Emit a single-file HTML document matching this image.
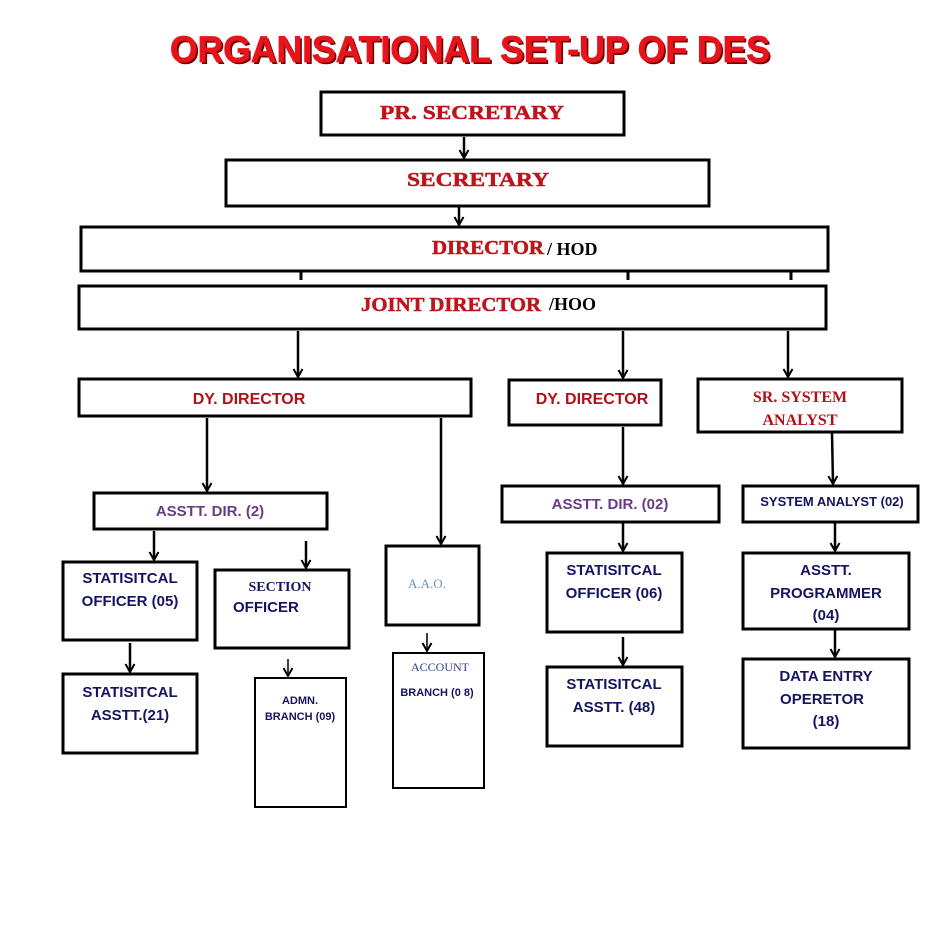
<!DOCTYPE html>
<html><head><meta charset="utf-8"><style>
html,body{margin:0;padding:0;background:#fff;width:929px;height:926px;overflow:hidden}
svg{display:block}
.n{font-family:"Liberation Sans Narrow","Liberation Sans",sans-serif;font-weight:bold}
.s{font-family:"Liberation Serif",serif;font-weight:bold}
</style></head><body>
<svg width="929" height="926" viewBox="0 0 929 926" xmlns="http://www.w3.org/2000/svg">
<defs>
<marker id="a" markerWidth="12" markerHeight="12" refX="10" refY="6" orient="auto" markerUnits="userSpaceOnUse">
<path d="M2,1.5 L10,6 L2,10.5" fill="none" stroke="#000" stroke-width="2"/>
</marker>
</defs>
<text x="472" y="64" text-anchor="middle" font-family="Liberation Sans,sans-serif" font-weight="bold" font-size="37" fill="#7a0000" textLength="600" lengthAdjust="spacingAndGlyphs">ORGANISATIONAL  SET-UP OF DES</text>
<text x="470" y="62" text-anchor="middle" font-family="Liberation Sans,sans-serif" font-weight="bold" font-size="37" fill="#e8141c" stroke="#e8141c" stroke-width="0.8" textLength="600" lengthAdjust="spacingAndGlyphs">ORGANISATIONAL  SET-UP OF DES</text>

<g fill="none" stroke="#000" stroke-width="3">
<rect x="321" y="92" width="303" height="43"/>
<rect x="226" y="160" width="483" height="46"/>
<rect x="81" y="227" width="747" height="44"/>
<rect x="79" y="286" width="747" height="43"/>
<rect x="79" y="379" width="392" height="37"/>
<rect x="509" y="380" width="152" height="45"/>
<rect x="698" y="379" width="204" height="53"/>
<rect x="94" y="493" width="233" height="36"/>
<rect x="63" y="562" width="134" height="78"/>
<rect x="215" y="570" width="134" height="78"/>
<rect x="386" y="546" width="93" height="79"/>
<rect x="63" y="674" width="134" height="79"/>
<rect x="502" y="486" width="217" height="36"/>
<rect x="547" y="553" width="135" height="79"/>
<rect x="547" y="667" width="135" height="79"/>
<rect x="743" y="486" width="175" height="36"/>
<rect x="743" y="553" width="166" height="76"/>
<rect x="743" y="659" width="166" height="89"/>
</g>
<g fill="none" stroke="#000" stroke-width="2">
<rect x="255" y="678" width="91" height="129"/>
<rect x="393" y="653" width="91" height="135"/>
</g>
<g stroke="#000" stroke-width="2.5" marker-end="url(#a)">
<line x1="464" y1="137" x2="464" y2="158"/>
<line x1="459" y1="207" x2="459" y2="225"/>
<line x1="298" y1="331" x2="298" y2="377"/>
<line x1="623" y1="331" x2="623" y2="378"/>
<line x1="788" y1="331" x2="788" y2="377"/>
<line x1="207" y1="418" x2="207" y2="491"/>
<line x1="441" y1="418" x2="441" y2="544"/>
<line x1="154" y1="531" x2="154" y2="560"/>
<line x1="306" y1="541" x2="306" y2="568"/>
<line x1="130" y1="643" x2="130" y2="672"/>
<line x1="623" y1="427" x2="623" y2="484"/>
<line x1="623" y1="523" x2="623" y2="551"/>
<line x1="623" y1="637" x2="623" y2="665"/>
<line x1="832" y1="433" x2="833" y2="484"/>
<line x1="835" y1="523" x2="835" y2="551"/>
<line x1="835" y1="630" x2="835" y2="657"/>
</g>
<g stroke="#000" stroke-width="1.5" marker-end="url(#a)">
<line x1="427" y1="633" x2="427" y2="651"/>
<line x1="288" y1="659" x2="288" y2="676"/>
</g>
<g stroke="#000" stroke-width="3">
<line x1="301" y1="272" x2="301" y2="280"/>
<line x1="628" y1="272" x2="628" y2="280"/>
<line x1="791" y1="272" x2="791" y2="280"/>
</g>

<g class="s" fill="#c0141c" stroke="#c0141c" stroke-width="0.5" font-size="20">
<text x="472" y="119" text-anchor="middle" textLength="184" lengthAdjust="spacingAndGlyphs">PR. SECRETARY</text>
<text x="478" y="186" text-anchor="middle" textLength="142" lengthAdjust="spacingAndGlyphs">SECRETARY</text>
<text x="488" y="254" text-anchor="middle" textLength="112" lengthAdjust="spacingAndGlyphs">DIRECTOR</text>
<text x="451" y="311" text-anchor="middle" textLength="180" lengthAdjust="spacingAndGlyphs">JOINT DIRECTOR</text>
</g>
<g class="s" fill="#000" font-size="18">
<text x="547" y="255">/ HOD</text>
<text x="549" y="310">/HOO</text>
</g>
<g class="s" fill="#b01018" font-size="16">
<text x="800" y="402" text-anchor="middle">SR. SYSTEM</text>
<text x="800" y="425" text-anchor="middle">ANALYST</text>
</g>
<g font-family="Liberation Sans,sans-serif" font-weight="bold" fill="#b01018" font-size="16">
<text x="249" y="404" text-anchor="middle">DY. DIRECTOR</text>
<text x="592" y="404" text-anchor="middle">DY.  DIRECTOR</text>
</g>
<g font-family="Liberation Sans,sans-serif" font-weight="bold" fill="#6a3a8a" font-size="15">
<text x="210" y="516" text-anchor="middle">ASSTT.  DIR. (2)</text>
<text x="610" y="509" text-anchor="middle">ASSTT.  DIR. (02)</text>
</g>
<g font-family="Liberation Sans,sans-serif" font-weight="bold" fill="#141460" font-size="15">
<text x="130" y="583" text-anchor="middle">STATISITCAL</text>
<text x="130" y="606" text-anchor="middle">OFFICER (05)</text>
<text x="130" y="697" text-anchor="middle">STATISITCAL</text>
<text x="130" y="720" text-anchor="middle">ASSTT.(21)</text>
<text x="233" y="612">OFFICER</text>
<text x="614" y="575" text-anchor="middle">STATISITCAL</text>
<text x="614" y="598" text-anchor="middle">OFFICER (06)</text>
<text x="614" y="689" text-anchor="middle">STATISITCAL</text>
<text x="614" y="712" text-anchor="middle">ASSTT. (48)</text>
<text x="826" y="575" text-anchor="middle">ASSTT.</text>
<text x="826" y="598" text-anchor="middle">PROGRAMMER</text>
<text x="826" y="620" text-anchor="middle">(04)</text>
<text x="826" y="681" text-anchor="middle">DATA ENTRY</text>
<text x="822" y="704" text-anchor="middle">OPERETOR</text>
<text x="826" y="726" text-anchor="middle">(18)</text>
</g>
<text x="832" y="506" text-anchor="middle" font-family="Liberation Sans,sans-serif" font-weight="bold" fill="#141460" font-size="13">SYSTEM ANALYST  (02)</text>
<text x="280" y="591" text-anchor="middle" class="s" fill="#141460" font-size="14">SECTION</text>
<g font-family="Liberation Sans,sans-serif" font-weight="bold" fill="#141460" font-size="11">
<text x="300" y="704" text-anchor="middle">ADMN.</text>
<text x="300" y="720" text-anchor="middle">BRANCH (09)</text>
<text x="437" y="696" text-anchor="middle">BRANCH (0 8)</text>
</g>
<text x="427" y="588" text-anchor="middle" font-family="Liberation Serif,serif" fill="#7090b0" font-size="13">A.A.O.</text>
<text x="440" y="671" text-anchor="middle" font-family="Liberation Serif,serif" fill="#304090" font-size="12">ACCOUNT</text>
</svg>
</body></html>
